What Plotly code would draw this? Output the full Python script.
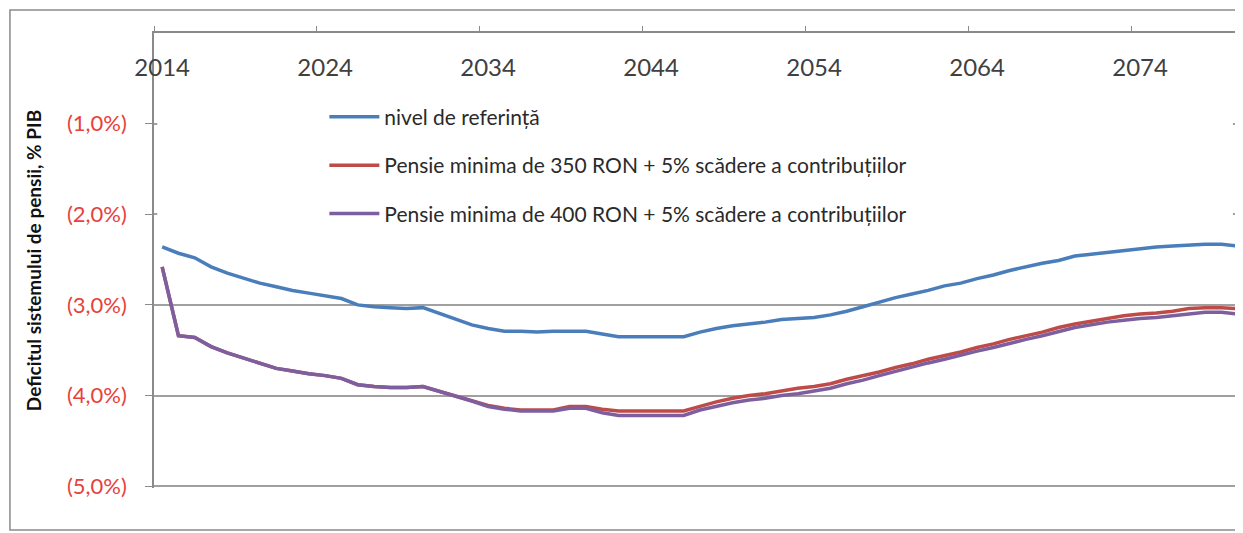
import plotly.graph_objects as go

years = list(range(2014, 2081))

nivel_referinta = [
    -2.36, -2.43, -2.48, -2.58, -2.65, -2.71, -2.76, -2.80, -2.84, -2.87,
    -2.90, -2.93, -3.00, -3.02, -3.03, -3.04, -3.03, -3.09, -3.15, -3.22,
    -3.26, -3.29, -3.29, -3.30, -3.29, -3.29, -3.29, -3.32, -3.35, -3.35,
    -3.35, -3.35, -3.35, -3.30, -3.26, -3.23, -3.21, -3.19, -3.16, -3.15,
    -3.14, -3.11, -3.07, -3.02, -2.97, -2.92, -2.88, -2.84, -2.79, -2.76,
    -2.71, -2.67, -2.62, -2.58, -2.54, -2.51, -2.46, -2.44, -2.42, -2.40,
    -2.38, -2.36, -2.35, -2.34, -2.33, -2.33, -2.35,
]

pensie_350 = [
    -2.58, -3.34, -3.36, -3.46, -3.53, -3.59, -3.65, -3.70, -3.73, -3.76,
    -3.78, -3.81, -3.88, -3.90, -3.91, -3.91, -3.90, -3.95, -4.00, -4.05,
    -4.11, -4.14, -4.16, -4.16, -4.16, -4.12, -4.12, -4.15, -4.17, -4.17,
    -4.17, -4.17, -4.17, -4.12, -4.07, -4.03, -4.00, -3.98, -3.95, -3.92,
    -3.90, -3.87, -3.82, -3.78, -3.74, -3.69, -3.65, -3.60, -3.56, -3.52,
    -3.47, -3.43, -3.38, -3.34, -3.30, -3.25, -3.21, -3.18, -3.15, -3.12,
    -3.10, -3.09, -3.07, -3.04, -3.03, -3.03, -3.04,
]

pensie_400 = [
    -2.58, -3.34, -3.36, -3.46, -3.53, -3.59, -3.65, -3.70, -3.73, -3.76,
    -3.78, -3.81, -3.88, -3.90, -3.91, -3.91, -3.90, -3.95, -4.00, -4.06,
    -4.12, -4.15, -4.17, -4.17, -4.17, -4.14, -4.14, -4.19, -4.22, -4.22,
    -4.22, -4.22, -4.22, -4.16, -4.12, -4.08, -4.05, -4.03, -4.00, -3.98,
    -3.95, -3.92, -3.87, -3.83, -3.78, -3.73, -3.69, -3.64, -3.60, -3.55,
    -3.51, -3.47, -3.42, -3.38, -3.34, -3.29, -3.25, -3.22, -3.19, -3.17,
    -3.15, -3.14, -3.12, -3.10, -3.08, -3.08, -3.10,
]

series_names = [
    "nivel de referință",
    "Pensie minima de 350 RON + 5% scădere a contribuțiilor",
    "Pensie minima de 400 RON + 5% scădere a contribuțiilor",
]
series_colors = ["#4a7ebb", "#be4b48", "#7d5fa0"]

x_ticks = [2014, 2024, 2034, 2044, 2054, 2064, 2074]
y_ticks = [-1, -2, -3, -4, -5]
y_labels = ["(1,0%)", "(2,0%)", "(3,0%)", "(4,0%)", "(5,0%)"]

fig = go.Figure()
for name, vals, col in zip(series_names, [nivel_referinta, pensie_350, pensie_400], series_colors):
    fig.add_trace(go.Scatter(
        x=years, y=vals, mode="lines", name=name, legendgroup=name,
        line=dict(color=col, width=3.5),
    ))

# white box behind the legend hides the upper grid lines (as in the original)
fig.add_shape(type="rect", xref="paper", yref="y", x0=0.003, x1=0.988, y0=-2.2, y1=-0.5,
              fillcolor="white", line_width=0, layer="above")
# outer frame of the chart
fig.add_shape(type="rect", xref="paper", yref="paper", x0=-0.1319, x1=1.06, y0=-0.0923, y1=1.0505,
              line=dict(color="#8a8a8a", width=1.5), fillcolor="rgba(0,0,0,0)", layer="below")

fig.update_layout(
    width=1243, height=533,
    margin=dict(l=146, r=5, t=25, b=53),
    paper_bgcolor="white", plot_bgcolor="white",
    font=dict(family="Lato, Open Sans, sans-serif", color="#222"),
    legend=dict(x=0.156, y=0.86, xanchor="left", yanchor="top",
                font=dict(size=21, color="#2a2a2a"), bgcolor="rgba(0,0,0,0)",
                traceorder="grouped", tracegroupgap=18, itemwidth=50),
    xaxis=dict(
        side="top", range=[2013.5, 2080.5],
        tickvals=x_ticks, ticks="", ticklabelposition="inside", ticklabelstandoff=28,
        ticklabeloverflow="allow",
        tickfont=dict(size=24, color="#404040"),
        showgrid=False, zeroline=False,
        showline=True, linecolor="#8a8a8a", linewidth=1.5,
        minor=dict(tick0=2013.5, dtick=10, ticks="outside", ticklen=5, tickcolor="#8a8a8a", showgrid=False),
    ),
    yaxis=dict(
        range=[-5.02, 0], tickvals=y_ticks, ticktext=y_labels,
        ticks="outside", ticklen=7, tickcolor="#8a8a8a",
        tickfont=dict(size=22, color="#e8413c"), ticklabelstandoff=14,
        showgrid=True, gridcolor="#a0a0a0", gridwidth=1.5, zeroline=False,
        showline=True, linecolor="#8a8a8a", linewidth=1.5,
        title=dict(text="<b>Deficitul sistemului de pensii, % PIB</b>",
                   font=dict(size=19, color="#111"), standoff=20),
    ),
)

fig.write_html("out.html")
